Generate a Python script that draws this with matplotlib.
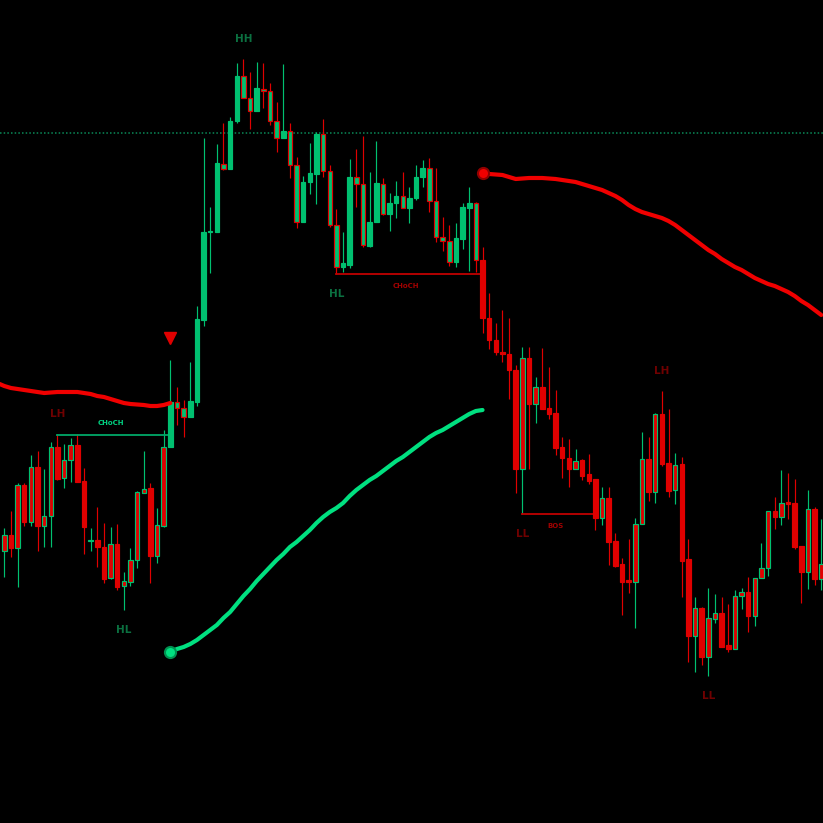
import matplotlib
matplotlib.use("Agg")
import matplotlib.pyplot as plt
import numpy as np

# ---- candle data (chart units, y grows downward as in the picture) ----
opens = [551, 535, 548, 485, 522, 467, 526, 516, 447, 478, 460, 445, 481, 540.5, 540, 547, 578, 544, 586, 582,
         560, 493, 488, 556, 526, 447, 402, 408, 417, 402, 320, 232, 232, 164, 169, 121, 76, 98, 111, 89,
         91, 121, 138, 131, 165, 222, 182, 174, 134, 171, 225, 267, 265, 177, 184, 246, 222, 184, 214, 203,
         196, 208, 198, 177, 168, 201, 237, 241, 262, 239, 208, 203, 260, 318, 340, 352, 354, 370, 469, 358,
         404, 387, 408, 413, 447, 458, 469, 460, 474, 479, 518, 498, 541, 564, 580, 582, 524, 459, 492, 414,
         463, 490, 464, 559, 636, 608, 657, 619, 613, 645, 649, 596, 592, 616, 578, 568, 511, 517, 502, 503,
         546, 572, 509, 579]
highs = [528, 511, 483, 483, 455, 451, 469, 442, 434, 444, 438, 434, 468, 528, 507, 523, 527, 524, 572, 548,
         491, 451, 483, 508, 430, 360, 387, 400, 362, 306, 138, 207, 144, 123, 117, 63, 59, 72, 62, 63,
         83, 102, 64, 123, 157, 176, 143, 132, 119, 165, 209, 232, 159, 149, 136, 172, 141, 178, 193, 181,
         172, 187, 165, 160, 158, 168, 217, 225, 223, 203, 187, 202, 247, 293, 323, 310, 318, 365, 347, 347,
         377, 348, 367, 390, 437, 439, 449, 459, 454, 479, 487, 487, 533, 558, 539, 518, 432, 437, 413, 391,
         409, 453, 457, 539, 597, 607, 588, 594, 597, 604, 590, 588, 577, 578, 543, 511, 497, 470, 473, 479,
         546, 490, 507, 519]
lows = [577, 557, 587, 526, 526, 551, 547, 547, 480, 488, 482, 482, 554, 551, 567, 583, 579, 590, 610, 586,
        568, 493, 583, 563, 527, 447, 425, 437, 417, 406, 326, 273, 232, 170, 169, 123, 98, 129, 111, 108,
        125, 152, 138, 178, 228, 222, 194, 204, 177, 227, 274, 272, 268, 207, 247, 247, 222, 215, 231, 218,
        208, 223, 200, 187, 212, 242, 251, 266, 267, 249, 271, 272, 333, 349, 355, 362, 399, 493, 514, 469,
        423, 409, 419, 455, 478, 487, 469, 480, 484, 530, 525, 565, 567, 615, 593, 628, 524, 501, 503, 466,
        497, 504, 597, 662, 672, 665, 676, 623, 647, 652, 649, 609, 632, 626, 578, 576, 529, 525, 519, 549,
        603, 589, 585, 590]
closes = [535, 548, 485, 522, 467, 526, 516, 447, 479, 460, 445, 482, 527, 539.5, 547, 579, 544, 587, 581, 560,
          492, 489, 556, 525, 447, 402, 408, 417, 401, 319, 232, 231, 163, 169, 121, 76, 98, 111, 88, 91,
          121, 138, 131, 165, 222, 182, 173, 134, 171, 225, 267, 263, 177, 184, 245, 222, 183, 214, 203, 196,
          208, 198, 177, 168, 201, 237, 241, 262, 238, 207, 203, 260, 318, 340, 352, 354, 370, 469, 358, 404,
          387, 409, 414, 448, 458, 469, 461, 476, 481, 518, 498, 542, 566, 582, 582, 524, 459, 492, 414, 464,
          491, 465, 561, 636, 608, 657, 618, 613, 647, 649, 596, 592, 616, 578, 568, 511, 517, 503, 504, 547,
          572, 509, 579, 564]
# trend state controlling body fill: 0 = bearish regime, 1 = bullish regime
trend_start_bull = 25
trend_end_bull = 72

# ---- trailing lines (one value per candle index) ----
red_left = [386, 388, 389, 390, 391, 392, 393, 392.5, 392, 392, 392, 392, 393, 394, 396, 397, 399, 401, 403, 404,
            404.5, 405, 406, 406, 405, 403]
green_trail = [652, 649, 647, 644, 640, 635, 630, 625, 618, 612, 604, 596, 589, 581, 574, 567, 560, 554, 547, 542,
               536, 530, 523, 517, 512, 508, 503, 496, 490, 485, 480, 476, 471, 466, 461, 457, 452, 447, 442, 437,
               433, 430, 426, 422, 418, 414, 411, 410]
red_right = [173, 174, 174.5, 175, 177, 179, 178.5, 178, 178, 178, 178.5, 179, 180, 181, 182, 184, 186, 188, 190, 193,
             196, 200, 205, 209, 212, 214, 216, 218, 221, 225, 230, 235, 240, 245, 250, 254, 259, 263, 267, 270,
             274, 278, 281, 284, 286, 289, 292, 296, 301, 305, 310, 315]

dotted_level = 133

# swing labels: (candle index, text, at high/low)
swings = [(36, "HH", "high"), (50, "HL", "low"), (18, "HL", "low"), (8, "LH", "high"),
          (99, "LH", "high"), (78, "LL", "low"), (106, "LL", "low")]
# structure breaks: (start index, end index, level source, text, kind)
breaks = [(8, 25, "high", "CHoCH", "bull"), (50, 72, "low", "CHoCH", "bear"), (78, 89, "low", "BOS", "bear")]

GREEN = "#00c070"
RED = "#e00000"
LINE_GREEN = "#00e080"
LINE_RED = "#f00000"
DARK_GREEN = "#0b7040"
DARK_RED = "#700000"

fig = plt.figure(figsize=(8.23, 8.23), dpi=100, facecolor="black")
ax = fig.add_axes([0, 0, 1, 1])
ax.set_facecolor("black")
n = len(opens)
idx = np.arange(n)
o = np.array(opens, float); c = np.array(closes, float)
h = np.array(highs, float); l = np.array(lows, float)
bull = c <= o  # y grows downward: close above open

edge = np.where(bull, GREEN, RED)
fill = np.where((idx >= trend_start_bull) & (idx < trend_end_bull), GREEN, RED)

ax.vlines(idx, h, l, colors=edge, linewidth=0.85, zorder=2)
top = np.minimum(o, c); bot = np.maximum(o, c)
height = np.maximum(bot - top, 0.8)
ax.bar(idx, height, bottom=top, width=0.68, color=fill, edgecolor=edge, linewidth=0.85, zorder=3)

ax.axhline(dotted_level, color="#0a8a58", linewidth=1.1, linestyle=(0, (1.0, 1.4)), zorder=1)

# trailing lines
xl = np.arange(len(red_left))
ax.plot(np.concatenate([[-0.7], xl]), [384] + red_left, color=LINE_RED, linewidth=3, solid_capstyle="round", zorder=4)
xg = np.arange(trend_start_bull, trend_start_bull + len(green_trail))
ax.plot(xg, green_trail, color=LINE_GREEN, linewidth=3, solid_capstyle="round", zorder=4)
xr = np.arange(trend_end_bull, trend_end_bull + len(red_right))
ax.plot(xr, red_right, color=LINE_RED, linewidth=3, solid_capstyle="round", zorder=4)
ax.plot(xg[0], green_trail[0], "o", markersize=8, markerfacecolor=LINE_GREEN, markeredgecolor="#009050",
        markeredgewidth=1.5, zorder=5)
ax.plot(xr[0], red_right[0], "o", markersize=8, markerfacecolor=LINE_RED, markeredgecolor="#900000",
        markeredgewidth=1.5, zorder=5)

# signal triangle
ax.annotate("", xy=(trend_start_bull, h[trend_start_bull]), xytext=(0, 0), textcoords="offset points")
ax.plot(trend_start_bull, h[trend_start_bull] - 22, marker="v", markersize=8, color="#e00000",
        linestyle="none", zorder=5)

# swing labels
for i, txt, side in swings:
    col = DARK_GREEN if txt.startswith("H") and txt != "LH" else DARK_RED
    if txt in ("HH", "HL"):
        col = DARK_GREEN
    else:
        col = DARK_RED
    if side == "high":
        ax.annotate(txt, (i, h[i]), xytext=(0, 14.5), textcoords="offset points", ha="center", va="center",
                    color=col, fontsize=7.5, fontweight="bold")
    else:
        ax.annotate(txt, (i, l[i]), xytext=(0, -14.5), textcoords="offset points", ha="center", va="center",
                    color=col, fontsize=7.5, fontweight="bold")

# structure lines
for s, e, src, txt, kind in breaks:
    lvl = h[s] + 1 if src == "high" else l[s]
    col = "#00a868" if kind == "bull" else "#c00000"
    tcol = "#00d080" if kind == "bull" else "#a00000"
    ax.plot([s, e], [lvl, lvl], color=col, linewidth=1.3, zorder=2.5)
    dy = 9 if kind == "bull" else -9
    ax.annotate(txt, ((s + e) / 2 - 0.5, lvl), xytext=(0, dy), textcoords="offset points", ha="center",
                va="center", color=tcol, fontsize=5, fontweight="bold")

ax.set_xlim(-0.647, 123.26)
ax.set_ylim(823, 0)
ax.axis("off")
fig.savefig("out.png", dpi=100, facecolor="black")
